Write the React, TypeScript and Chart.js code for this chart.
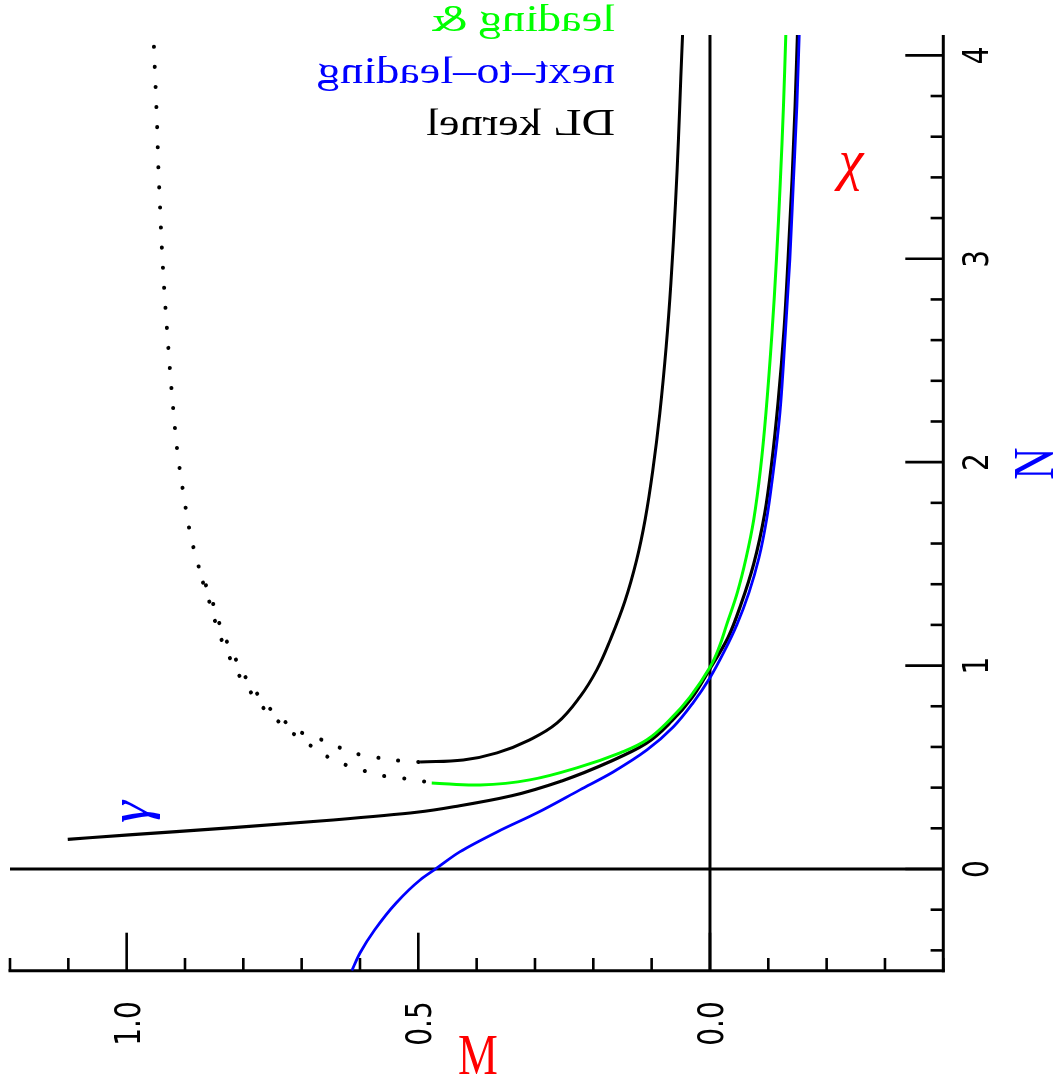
import React, { useEffect, useRef } from "react";
import { Chart, registerables } from "chart.js";

Chart.register(...registerables);

// ---- curve data: M (horizontal, reversed) versus N (vertical) ----

// DL kernel, anomalous dimension branch (gamma)
const DL_GAMMA_N = [0.146, 0.169, 0.203, 0.241, 0.279, 0.311, 0.360, 0.433, 0.532, 0.616, 0.729, 0.842, 0.975, 1.138, 1.30, 1.50, 1.75, 2.00, 2.30, 2.65, 3.00, 3.40, 3.75, 4.10];
const DL_GAMMA_M = [1.101, 0.990, 0.818, 0.646, 0.503, 0.429, 0.340, 0.254, 0.168, 0.110, 0.065, 0.031, 0.002, -0.031, -0.053, -0.075, -0.094, -0.106, -0.117, -0.127, -0.134, -0.141, -0.146, -0.150];

// DL kernel, characteristic function branch (chi), solid part
const DL_CHI_N = [0.526, 0.536, 0.571, 0.635, 0.718, 0.846, 0.979, 1.126, 1.315, 1.516, 1.720, 1.960, 2.240, 2.570, 2.880, 3.280, 3.590, 3.890, 4.10];
const DL_CHI_M = [0.497, 0.423, 0.365, 0.309, 0.262, 0.223, 0.194, 0.171, 0.146, 0.126, 0.111, 0.098, 0.086, 0.075, 0.067, 0.059, 0.054, 0.050, 0.047];

// dotted continuation of the DL chi branch
const DL_CHI_DOT_N = [0.526, 0.534, 0.549, 0.566, 0.603, 0.639, 0.676, 0.738, 0.799, 0.884, 0.970, 1.067, 1.153, 1.251, 1.349, 1.447, 1.650, 1.851, 2.051, 2.255, 2.464, 2.659, 2.868, 3.074, 3.271, 3.479, 3.674, 3.882, 4.10];
const DL_CHI_DOT_M = [0.500, 0.539, 0.573, 0.606, 0.640, 0.669, 0.705, 0.734, 0.758, 0.782, 0.802, 0.819, 0.834, 0.846, 0.857, 0.872, 0.891, 0.903, 0.913, 0.920, 0.926, 0.931, 0.936, 0.940, 0.943, 0.946, 0.948, 0.951, 0.954];

// dotted continuation of the leading curve
const LEAD_DOT_N = [0.430, 0.444, 0.456, 0.481, 0.510, 0.554, 0.615, 0.676, 0.738, 0.799, 0.884, 0.970, 1.067, 1.153, 1.251, 1.349, 1.447];
const LEAD_DOT_M = [0.490, 0.523, 0.557, 0.591, 0.623, 0.657, 0.689, 0.719, 0.745, 0.768, 0.791, 0.811, 0.828, 0.841, 0.852, 0.862, 0.874];

// leading
const LEAD_N = [0.423, 0.413, 0.438, 0.502, 0.571, 0.635, 0.733, 0.846, 0.994, 1.092, 1.20, 1.36, 1.53, 1.717, 1.963, 2.244, 2.622, 2.998, 3.374, 3.751, 4.10];
const LEAD_M = [0.477, 0.394, 0.309, 0.223, 0.154, 0.108, 0.069, 0.034, -0.0005, -0.016, -0.0285, -0.047, -0.062, -0.075, -0.0865, -0.096, -0.106, -0.114, -0.1205, -0.126, -0.130];

// next-to-leading
const NLO_N = [-0.50, -0.413, -0.300, -0.167, -0.054, 0.005, 0.084, 0.182, 0.275, 0.389, 0.477, 0.585, 0.698, 0.817, 0.940, 1.067, 1.20, 1.36, 1.53, 1.717, 1.963, 2.244, 2.622, 2.998, 3.374, 3.751, 4.10];
const NLO_M = [0.614, 0.600, 0.575, 0.538, 0.497, 0.468, 0.429, 0.365, 0.297, 0.223, 0.166, 0.108, 0.063, 0.029, 0.000, -0.024, -0.046, -0.067, -0.084, -0.097, -0.109, -0.120, -0.129, -0.137, -0.143, -0.149, -0.153];

// ---- axes ----
const M_MIN = -0.4;
const M_MAX = 1.2;
const N_MIN = -0.5;
const N_MAX = 4.1;

const M_TICKS = [-0.4, -0.3, -0.2, -0.1, 0.0, 0.1, 0.2, 0.3, 0.4, 0.5, 0.6, 0.7, 0.8, 0.9, 1.0, 1.1, 1.2];
const M_MAJOR = [0.0, 0.5, 1.0];
const M_LABELS = ["0.0", "0.5", "1.0"];

const N_TICKS = [-0.4, -0.2, 0.0, 0.2, 0.4, 0.6, 0.8, 1.0, 1.2, 1.4, 1.6, 1.8, 2.0, 2.2, 2.4, 2.6, 2.8, 3.0, 3.2, 3.4, 3.6, 3.8, 4.0];
const N_MAJOR = [0, 1, 2, 3, 4];
const N_LABELS = ["0", "1", "2", "3", "4"];

const LEGEND_LINES = ["leading &", "next\u2013to\u2013leading", "DL kernel"];
const LEGEND_COLORS = ["#00ff00", "#0000ff", "#000000"];

const BLACK = "#000000";
const GREEN = "#00ff00";
const BLUE = "#0000ff";
const RED = "#ff0000";

const pts = (ms: number[], ns: number[]) => ms.map((m, i) => ({ x: m, y: ns[i] }));

type TextOpts = {
  font: string;
  color: string;
  rotate?: number;
  scaleX?: number;
  align?: CanvasTextAlign;
  baseline?: CanvasTextBaseline;
};

function drawText(ctx: CanvasRenderingContext2D, text: string, x: number, y: number, o: TextOpts) {
  ctx.save();
  ctx.translate(x, y);
  if (o.rotate) ctx.rotate(o.rotate);
  ctx.scale(o.scaleX ?? 1, 1);
  ctx.font = o.font;
  ctx.fillStyle = o.color;
  ctx.textAlign = o.align ?? "left";
  ctx.textBaseline = o.baseline ?? "alphabetic";
  ctx.fillText(text, 0, 0);
  ctx.restore();
}

const TICK_FONT = '35px "DejaVu Sans"';
const TITLE_FONT = '56px "Liberation Serif"';
const GREEK_FONT = 'italic 56px "Liberation Serif"';
const LEGEND_FONT = '37px "Liberation Serif"';

const framePlugin = {
  id: "frameAxes",
  beforeDatasetsDraw(chart: any) {
    const { ctx, chartArea: a, scales } = chart;
    const xs = scales.x;
    const ys = scales.y;
    const seg = (x1: number, y1: number, x2: number, y2: number, w: number) => {
      ctx.lineWidth = w;
      ctx.beginPath();
      ctx.moveTo(x1, y1);
      ctx.lineTo(x2, y2);
      ctx.stroke();
    };
    ctx.save();
    ctx.strokeStyle = BLACK;
    ctx.lineCap = "butt";

    // zero lines
    const x0 = xs.getPixelForValue(0);
    const y0 = ys.getPixelForValue(0);
    seg(x0, a.top, x0, a.bottom, 3);
    seg(a.left, y0, a.right, y0, 3);

    // axis lines (bottom: M, right: N)
    seg(a.left - 1.5, a.bottom, a.right + 1.5, a.bottom, 3);
    seg(a.right, a.top, a.right, a.bottom + 1.5, 3);

    // inward ticks
    for (const v of M_TICKS) {
      const px = xs.getPixelForValue(v);
      const major = M_MAJOR.some((m) => Math.abs(m - v) < 1e-6);
      seg(px, a.bottom, px, a.bottom - (major ? 38 : 12.7), 2.6);
    }
    for (const v of N_TICKS) {
      const py = ys.getPixelForValue(v);
      const major = N_MAJOR.some((m) => Math.abs(m - v) < 1e-6);
      seg(a.right, py, a.right - (major ? 38 : 12.7), py, 2.6);
    }
    ctx.restore();
  },
  afterDatasetsDraw(chart: any) {
    const { ctx, chartArea: a, scales } = chart;
    const xs = scales.x;
    const ys = scales.y;
    const up = -Math.PI / 2;

    // tick labels, reading upwards
    M_MAJOR.forEach((v, i) => {
      const px = xs.getPixelForValue(v);
      drawText(ctx, M_LABELS[i], px + 13, 1023.5, {
        font: TICK_FONT, color: BLACK, rotate: up, scaleX: 0.8, align: "center",
      });
    });
    N_MAJOR.forEach((v, i) => {
      const py = ys.getPixelForValue(v);
      drawText(ctx, N_LABELS[i], a.right + 45, py, {
        font: TICK_FONT, color: BLACK, rotate: up, scaleX: 0.8, align: "center",
      });
    });

    // axis titles
    drawText(ctx, "M", 478, 1074, { font: TITLE_FONT, color: RED, scaleX: 0.8, align: "center" });
    drawText(ctx, "N", 1053, 463.5, { font: TITLE_FONT, color: BLUE, rotate: up, scaleX: 0.8, align: "center" });

    // curve labels
    drawText(ctx, "\u03c7", 851, 179, { font: GREEK_FONT, color: RED, align: "center" });
    drawText(ctx, "\u03b3", 148, 812, { font: GREEK_FONT, color: BLUE, rotate: up, align: "center" });

    // legend, mirrored
    const baselines = [31, 83, 135];
    LEGEND_LINES.forEach((t, i) => {
      drawText(ctx, t, 615, baselines[i], { font: LEGEND_FONT, color: LEGEND_COLORS[i], scaleX: -1.25, align: "left" });
    });
  },
};

export default function App() {
  const ref = useRef<HTMLCanvasElement | null>(null);

  useEffect(() => {
    if (!ref.current) return;
    const line = (data: any, color: string, width: number, order: number, dotted = false, spline = false) => ({
      data,
      borderColor: color,
      backgroundColor: color,
      borderWidth: width,
      showLine: true,
      fill: false,
      pointRadius: 0,
      cubicInterpolationMode: spline ? "default" : "monotone",
      tension: spline ? 0.4 : 0,
      order,
      borderCapStyle: dotted ? "round" : "butt",
      borderDash: dotted ? [0.1, 20] : [],
    });

    const chart = new Chart(ref.current, {
      type: "scatter",
      data: {
        datasets: [
          line(pts(NLO_M, NLO_N), BLUE, 2.8, 0),
          line(pts(LEAD_M, LEAD_N), GREEN, 3, 1, false, true),
          line(pts(DL_GAMMA_M, DL_GAMMA_N), BLACK, 3.2, 2),
          line(pts(DL_CHI_M, DL_CHI_N), BLACK, 3, 2, false, true),
          line(pts(DL_CHI_DOT_M, DL_CHI_DOT_N), BLACK, 4, 3, true),
          line(pts(LEAD_DOT_M, LEAD_DOT_N), BLACK, 4, 3, true),
        ] as any,
      },
      options: {
        indexAxis: "y",
        responsive: false,
        animation: false,
        devicePixelRatio: 1,
        layout: { padding: { left: 10, right: 111.7, top: 35, bottom: 119.3 } },
        plugins: { legend: { display: false }, tooltip: { enabled: false } },
        scales: {
          x: { type: "linear", min: M_MIN, max: M_MAX, reverse: true, display: false },
          y: { type: "linear", min: N_MIN, max: N_MAX, display: false },
        },
      } as any,
      plugins: [framePlugin],
    });
    return () => chart.destroy();
  }, []);

  return (
    <canvas
      ref={ref}
      width={1055}
      height={1090}
      style={{ position: "absolute", left: 0, top: 0, width: 1055, height: 1090, background: "#fff" }}
    />
  );
}
